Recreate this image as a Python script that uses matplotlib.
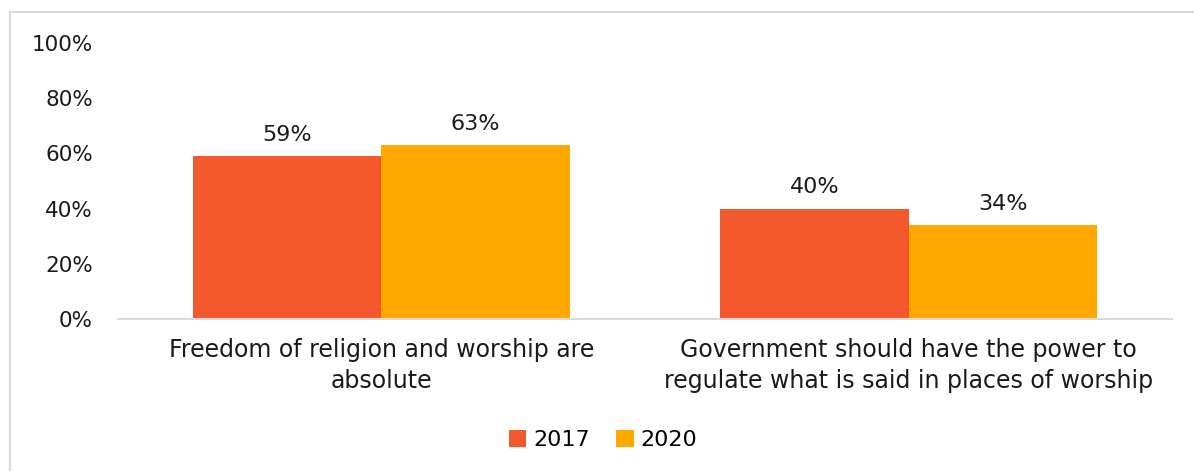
import matplotlib
matplotlib.use("Agg")
import matplotlib.pyplot as plt
from matplotlib.patches import Rectangle
import numpy as np

categories = ["Freedom of religion and worship are\nabsolute",
              "Government should have the power to\nregulate what is said in places of worship"]
years = ["2017", "2020"]
values_2017 = [59, 40]
values_2020 = [63, 34]
colors = ["#F3572C", "#FFA800"]

plt.rcParams["font.family"] = ["DejaVu Sans"]

fig = plt.figure(figsize=(11.94, 4.71), dpi=100)
ax = fig.add_axes([0.0988, 0.3227, 0.8828, 0.586])

# light frame around the chart area
fig.patches.append(Rectangle((10 / 1194, -0.05), 1.2, 1 - 12 / 471 + 0.05,
                             transform=fig.transFigure, fill=False,
                             edgecolor="#D9D9D9", linewidth=1.5))

x = np.arange(len(categories))
w = 0.357
b1 = ax.bar(x - w / 2, values_2017, w, color=colors[0], label=years[0])
b2 = ax.bar(x + w / 2, values_2020, w, color=colors[1], label=years[1])

for bars, vals in ((b1, values_2017), (b2, values_2020)):
    for bar, v in zip(bars, vals):
        ax.annotate(f"{v}%", (bar.get_x() + bar.get_width() / 2, v),
                    xytext=(0, 8), textcoords="offset points",
                    ha="center", va="bottom", fontsize=16, color="#1a1a1a")

ax.set_xlim(-0.5, 1.5)
ax.set_ylim(0, 100)
ax.set_yticks(range(0, 101, 20))
ax.set_yticklabels([f"{t}%" for t in range(0, 101, 20)], fontsize=15.5)
ax.set_xticks(x)
ax.set_xticklabels(categories, linespacing=1.35, fontsize=17)
ax.tick_params(axis="both", length=0, colors="#1a1a1a")
ax.tick_params(axis="y", pad=18)
ax.tick_params(axis="x", pad=14)

for side in ("top", "right", "left"):
    ax.spines[side].set_visible(False)
ax.spines["bottom"].set_color("#D9D9D9")
ax.spines["bottom"].set_linewidth(1.5)

fig.legend(handles=[b1, b2], labels=years, loc="center",
           bbox_to_anchor=(0.505, 1 - 440 / 471), ncol=2, frameon=False,
           fontsize=16, handlelength=0.8, handleheight=0.8,
           handletextpad=0.3, columnspacing=1.2)

fig.savefig("out.png", dpi=100, facecolor="white")
